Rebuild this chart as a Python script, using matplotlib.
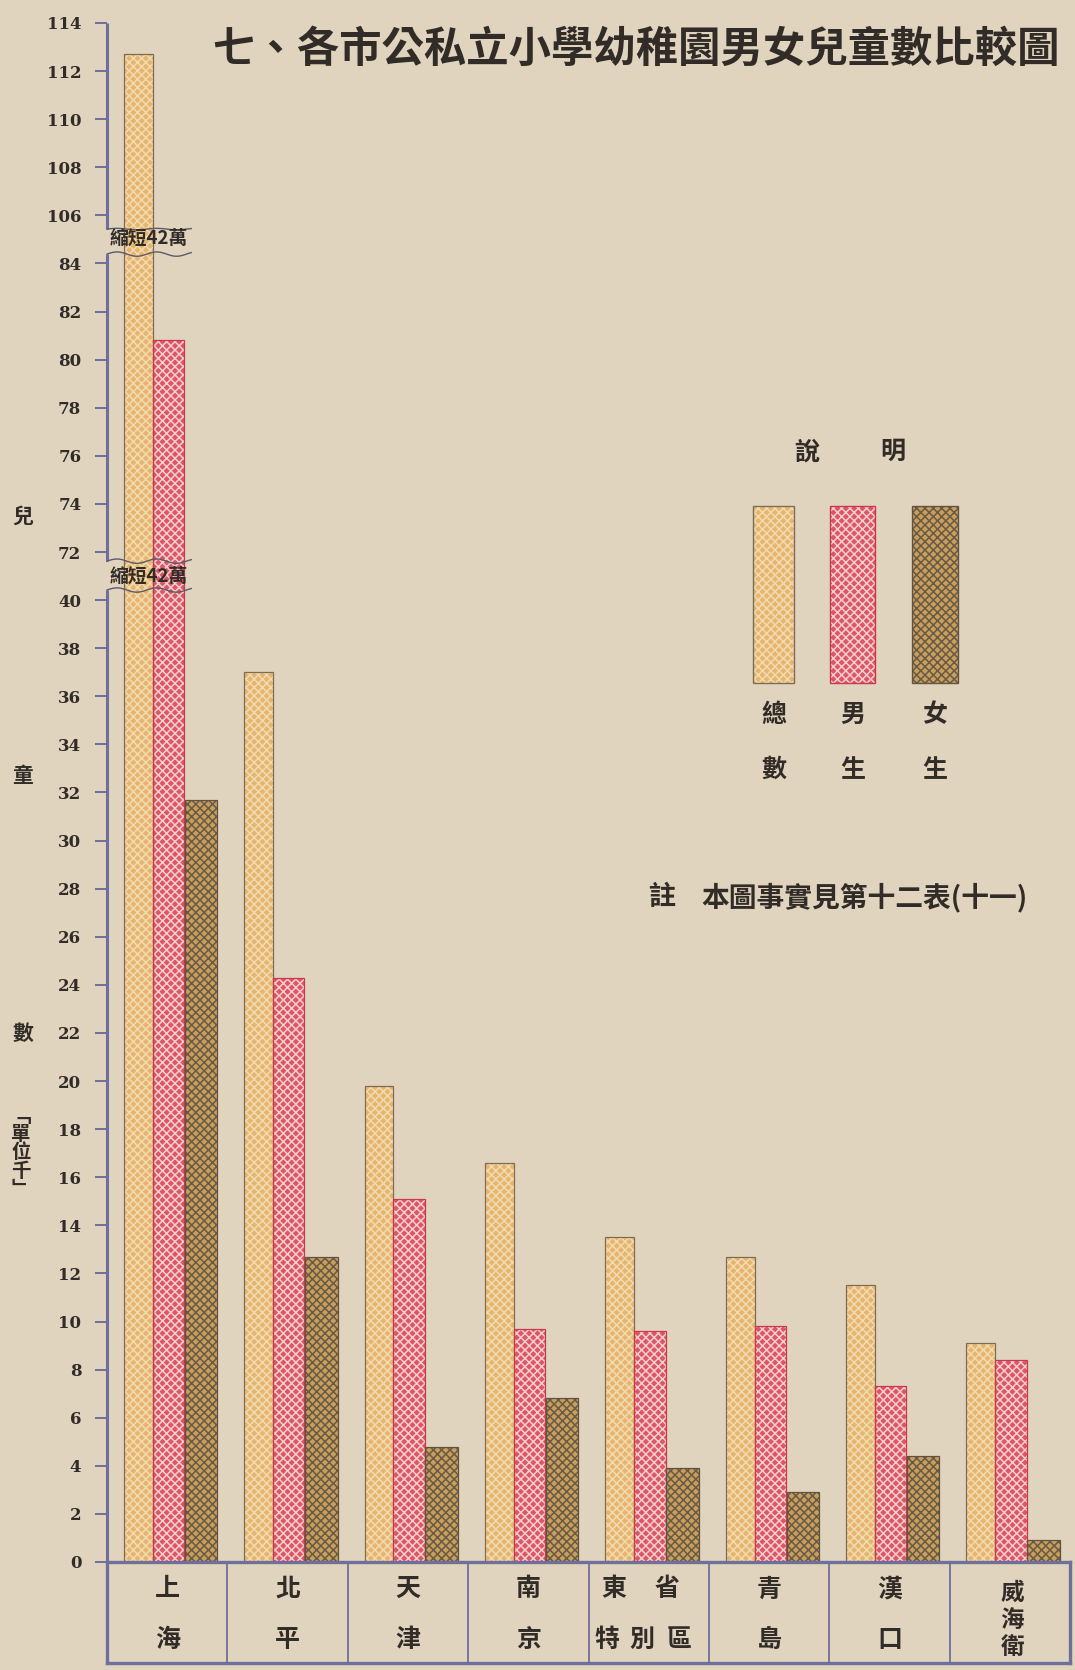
import matplotlib
matplotlib.use("Agg")
import matplotlib.pyplot as plt
import matplotlib.transforms as mtransforms
from matplotlib.patches import Rectangle
import numpy as np

# ---- data (unit: thousand children) ----
cities = ["上海", "北平", "天津", "南京", "東省特別區", "青島", "漢口", "威海衛"]
total = [112.7, 37.0, 19.8, 16.6, 13.5, 12.7, 11.5, 9.1]
male = [80.8, 24.3, 15.1, 9.7, 9.6, 9.8, 7.3, 8.4]
female = [31.7, 12.7, 4.8, 6.8, 3.9, 2.9, 4.4, 0.9]

ticks_low = list(range(0, 41, 2))
ticks_mid = list(range(72, 85, 2))
ticks_high = list(range(106, 115, 2))

# broken axis: real value -> drawn position
seg_real = [0, 40, 72, 84, 106, 114]
seg_pos = [0, 40, 42, 54, 56, 64]

title = "七、各市公私立小學幼稚園男女兒童數比較圖"
break_label = "縮短42萬"
note_label = "註"
note_text = "本圖事實見第十二表(十一)"

W, H = 1075, 1670
PAPER = "#e1d4bf"
INK = "#312c27"
AXIS = "#6f6f9c"
CJK = ["Noto Sans CJK TC", "DejaVu Sans"]

plt.rcParams["font.family"] = CJK
plt.rcParams["hatch.linewidth"] = 1.1

STYLES = {
    "total": dict(base="#e6b66c", lines="#f2dab2", edge="#7d6c56"),
    "male": dict(base="#df5568", lines="#f3cfca", edge="#c9384c"),
    "female": dict(base="#c99d5a", lines="#675a47", edge="#5f5443"),
}
HATCH = "xxxx"


def fwd(v):
    return np.interp(v, seg_real, seg_pos)


def inv(p):
    return np.interp(p, seg_pos, seg_real)


def textured_bar(ax, x, h, width, style):
    st = STYLES[style]
    ax.bar(x, h, width, color=st["base"], linewidth=0, zorder=2)
    ax.bar(x, h, width, color="none", edgecolor=st["lines"], hatch=HATCH,
           linewidth=0, zorder=3)
    ax.bar(x, h, width, color="none", edgecolor=st["edge"], linewidth=0.9,
           zorder=4)


def textured_rect(ax, x, y, w, h, style):
    st = STYLES[style]
    ax.add_patch(Rectangle((x, y), w, h, facecolor=st["base"], linewidth=0))
    ax.add_patch(Rectangle((x, y), w, h, facecolor="none", edgecolor=st["lines"],
                           hatch=HATCH, linewidth=0))
    ax.add_patch(Rectangle((x, y), w, h, facecolor="none", edgecolor=st["edge"],
                           linewidth=1.0))


fig = plt.figure(figsize=(W / 100, H / 100), dpi=100, facecolor=PAPER)

# ---- main chart ----
ax = fig.add_axes([107 / W, (H - 1562) / H, 963 / W, 1539 / H])
ax.set_facecolor("none")
ax.set_yscale("function", functions=(fwd, inv))

x = np.arange(len(cities))
textured_bar(ax, x - 0.24, total, 0.24, "total")
textured_bar(ax, x + 0.01, male, 0.26, "male")
textured_bar(ax, x + 0.28, female, 0.27, "female")

ax.set_xlim(-0.5, len(cities) - 0.5)
ax.set_ylim(0, 114)
ticks = ticks_low + ticks_mid + ticks_high
ax.set_yticks(ticks, [str(t) for t in ticks], fontfamily="DejaVu Serif",
              fontweight="bold", fontsize=12, color=INK)
ax.set_xticks([])
ax.tick_params(axis="y", direction="out", length=8.5, width=1.4,
               color=AXIS, pad=10)
for sp in ax.spines.values():
    sp.set_visible(False)

# axis line segments and break marks (y in axes fraction)
blend = mtransforms.blended_transform_factory(ax.transData, ax.transAxes)
top = seg_pos[-1]
for y0, y1 in [(0, 40.42), (41.62, 54.39), (55.43, 64)]:
    ax.plot([-0.5, -0.5], [y0 / top, y1 / top], color=AXIS, lw=2.2,
            transform=blend, clip_on=False, zorder=6, solid_capstyle="butt")

xs = np.linspace(-0.5, 0.2, 60)
for ybase, amp in [(55.43, 0.03), (54.39, 0.09), (41.62, 0.09), (40.42, 0.09)]:
    ys = ybase + amp * np.sin((xs + 0.5) * 2 * np.pi / 0.33)
    ax.plot(xs, ys / top, color="#5d5a6a", lw=1.0, transform=blend,
            clip_on=False, zorder=6)
for ylab in [55.05, 40.98]:
    ax.text(-0.15, ylab / top, break_label, transform=blend, ha="center",
            va="center", fontsize=13.5, fontweight="bold", color=INK, zorder=7)

# ---- city table ----
tb = fig.add_axes([107 / W, 7 / H, 963 / W, 101 / H])
tb.set_facecolor("none")
tb.set_xlim(-0.5, len(cities) - 0.5)
tb.set_ylim(0, 1)
tb.set_xticks([])
tb.set_yticks([])
for sp in tb.spines.values():
    sp.set_color(AXIS)
    sp.set_linewidth(2.4)
for i in range(len(cities) - 1):
    tb.axvline(i + 0.5, color=AXIS, lw=1.3)

for i, name in enumerate(cities):
    kw = dict(ha="center", va="center", fontweight="bold", color=INK)
    if len(name) == 2:
        tb.text(i, 0.73, name[0], fontsize=18, **kw)
        tb.text(i, 0.23, name[1], fontsize=18, **kw)
    elif len(name) == 3:
        for ch, yy in zip(name, [0.69, 0.43, 0.16]):
            tb.text(i + 0.02, yy, ch, fontsize=17, **kw)
    else:
        tb.text(i - 0.29, 0.73, name[0], fontsize=18, **kw)
        tb.text(i + 0.15, 0.73, name[1], fontsize=18, **kw)
        for ch, dx in zip(name[2:], [-0.35, -0.06, 0.25]):
            tb.text(i + dx, 0.23, ch, fontsize=18, **kw)

# ---- overlay for title, legend, notes (pixel coords, y down) ----
ov = fig.add_axes([0, 0, 1, 1])
ov.set_xlim(0, W)
ov.set_ylim(H, 0)
ov.axis("off")

ov.text(1060, 50, title, ha="right", va="center", fontsize=30.5,
        fontweight="bold", color=INK)

ov.text(807, 452, "說", ha="center", va="center", fontsize=18,
        fontweight="bold", color=INK)
ov.text(893, 452, "明", ha="center", va="center", fontsize=18,
        fontweight="bold", color=INK)
legend_items = [("total", "總", "數", 753, 41), ("male", "男", "生", 830, 45),
                ("female", "女", "生", 912, 46)]
for style, c1, c2, lx, lw in legend_items:
    textured_rect(ov, lx, 506, lw, 177, style)
    ov.text(lx + lw / 2, 715, c1, ha="center", va="center", fontsize=18,
            fontweight="bold", color=INK)
    ov.text(lx + lw / 2, 770, c2, ha="center", va="center", fontsize=18,
            fontweight="bold", color=INK)

ov.text(662, 897, note_label, ha="center", va="center", fontsize=19.5,
        fontweight="bold", color=INK)
ov.text(701, 897, note_text, ha="left", va="center", fontsize=20,
        fontweight="bold", color=INK)

# vertical axis caption
for ch, yy in [("兒", 516), ("童", 775), ("數", 1033)]:
    ov.text(23, yy, ch, ha="center", va="center", fontsize=15,
            fontweight="bold", color=INK)
ov.text(21, 1153, "﹁\n單\n位\n千\n﹂", ha="center", va="center", fontsize=14,
        fontweight="bold", color=INK, linespacing=0.95)

fig.savefig("out.png", dpi=100, facecolor=PAPER)
plt.close(fig)
